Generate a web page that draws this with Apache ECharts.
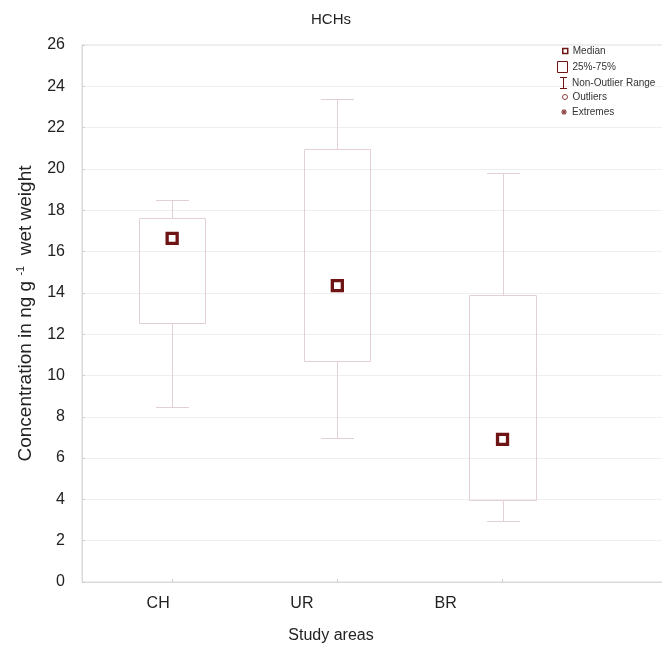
<!DOCTYPE html>
<html>
<head>
<meta charset="utf-8">
<script src="https://cdn.jsdelivr.net/npm/echarts@6/dist/echarts.min.js"></script>
<style>
  html, body { margin: 0; padding: 0; background: #fff; }
  #main { width: 662px; height: 646px; }
</style>
</head>
<body>
<div id="main"></div>
<script>
// values (ng g-1 wet weight)
const areas = ['CH', 'UR', 'BR'];
const whiskerLow = [8.45, 6.95, 2.95];
const q1 = [12.53, 10.70, 3.97];
const medians = [16.64, 14.35, 6.91];
const q3 = [17.61, 20.95, 13.88];
const whiskerHigh = [18.5, 23.4, 19.82];
const legendNames = ['Median', '25%-75%', 'Non-Outlier Range', 'Outliers', 'Extremes'];

const font = "'Liberation Sans', Arial, sans-serif";
const boxColor = '#e2d0d4';
const dark = '#6e1414';

const boxData = areas.map((a, i) => [i + 1, whiskerLow[i], q1[i], medians[i], q3[i], whiskerHigh[i]]);
const medianData = areas.map((a, i) => [i + 1, medians[i]]);

function px(v) { return Math.round(v) + 0.5; }

function renderWhisker(params, api) {
    const x = api.value(0);
    const lo = api.coord([x, api.value(1)]);
    const b = api.coord([x, api.value(2)]);
    const t = api.coord([x, api.value(4)]);
    const hi = api.coord([x, api.value(5)]);
    const half = api.size([0.1, 0])[0];
    const cx = px(lo[0]);
    const st = { stroke: boxColor, lineWidth: 1, fill: null };
    return {
        type: 'group',
        children: [
            { type: 'line', shape: { x1: cx, y1: px(lo[1]), x2: cx, y2: px(b[1]) }, style: st },
            { type: 'line', shape: { x1: cx, y1: px(t[1]), x2: cx, y2: px(hi[1]) }, style: st },
            { type: 'line', shape: { x1: cx - half, y1: px(lo[1]), x2: cx + half, y2: px(lo[1]) }, style: st },
            { type: 'line', shape: { x1: cx - half, y1: px(hi[1]), x2: cx + half, y2: px(hi[1]) }, style: st }
        ]
    };
}

function renderBox(params, api) {
    const x = api.value(0);
    const b = api.coord([x, api.value(2)]);
    const t = api.coord([x, api.value(4)]);
    const w = api.size([0.4, 0])[0];
    const x0 = px(b[0] - w / 2);
    const x1 = px(b[0] + w / 2);
    return {
        type: 'rect',
        shape: { x: x0, y: px(t[1]), width: x1 - x0, height: px(b[1]) - px(t[1]) },
        style: { stroke: boxColor, lineWidth: 1, fill: 'rgba(255,255,255,0)' }
    };
}

// legend entries: one small legend each so the icons can differ in size
const legendIcons = [
    { icon: 'rect', w: 5, h: 5, style: { color: '#fff', borderColor: dark, borderWidth: 1.5 } },
    { icon: 'rect', w: 10, h: 11, style: { color: '#fff', borderColor: dark, borderWidth: 1 } },
    { icon: 'path://M0,0h7v1h-7zM3,1h1v10h-1zM0,11h7v1h-7z', w: 7, h: 12, style: { color: dark } },
    { icon: 'circle', w: 5, h: 5, style: { color: '#fff', borderColor: dark, borderWidth: 1 } },
    { icon: 'path://M2.5,0h1v6h-1zM0,2.5h6v1h-6zM0.6,1.3l0.7,-0.7l4.1,4.1l-0.7,0.7zM4.7,0.6l0.7,0.7l-4.1,4.1l-0.7,-0.7z', w: 6, h: 6, style: { color: dark } }
];
const legendRowY = [51, 67, 83, 97, 112];

const legends = legendNames.map((name, i) => ({
    left: 572 - 5 - legendIcons[i].w,
    top: legendRowY[i] - 6,
    padding: 0,
    itemWidth: legendIcons[i].w,
    itemHeight: legendIcons[i].h,
    selectedMode: false,
    data: [{ name: name, icon: legendIcons[i].icon, itemStyle: legendIcons[i].style }],
    textStyle: { fontFamily: font, fontSize: 10, color: '#333', lineHeight: 12 }
}));

const chart = echarts.init(document.getElementById('main'));

chart.setOption({
    animation: false,
    backgroundColor: '#fff',
    title: [
        {
            text: 'HCHs', left: 'center', top: 12, padding: 0,
            textStyle: { fontFamily: font, fontSize: 15, fontWeight: 'normal', color: '#222' }
        },
        {
            text: 'Study areas', left: 'center', top: 628, padding: 0,
            textStyle: { fontFamily: font, fontSize: 16, fontWeight: 'normal', color: '#222' }
        }
    ],
    legend: legends,
    grid: {
        left: 82, right: -1, top: 45, bottom: 64,
        show: true, borderColor: '#dcdcdc', borderWidth: 1,
        outerBoundsMode: 'none'
    },
    xAxis: [
        {
            type: 'value', min: 0.4542, max: 3.9715, position: 'bottom',
            axisLine: { lineStyle: { color: '#d9d9d9' } },
            axisTick: { inside: true, length: 3, customValues: [1, 2, 3], lineStyle: { color: '#cfcfcf' } },
            axisLabel: { show: false },
            splitLine: { show: false }
        },
        {
            type: 'value', min: 0.4704, max: 4.512, position: 'bottom',
            axisLine: { show: false },
            axisTick: { show: false },
            axisLabel: {
                customValues: [1, 2, 3],
                formatter: v => areas[Math.round(v) - 1],
                fontFamily: font, fontSize: 16, color: '#222', margin: 14
            },
            splitLine: { show: false }
        }
    ],
    yAxis: {
        type: 'value', min: 0, max: 26, interval: 2,
        axisLine: { show: true, lineStyle: { color: '#d9d9d9' } },
        axisTick: { show: true, inside: true, length: 3, lineStyle: { color: '#cfcfcf' } },
        axisLabel: { fontFamily: font, fontSize: 16, color: '#222', margin: 17 },
        splitLine: { lineStyle: { color: '#efefef' } },
        name: '{n|Concentration in ng g }{s|-1}{n|  wet weight}',
        nameLocation: 'middle',
        nameGap: 45,
        nameTextStyle: {
            rich: {
                n: { fontFamily: font, fontSize: 19, color: '#222', lineHeight: 22 },
                s: { fontFamily: font, fontSize: 11, color: '#222', verticalAlign: 'top', lineHeight: 22 }
            }
        }
    },
    series: [
        {
            name: 'Non-Outlier Range', type: 'custom', xAxisIndex: 0,
            renderItem: renderWhisker, data: boxData, encode: { x: 0, y: [1, 2, 3, 4, 5] }
        },
        {
            name: '25%-75%', type: 'custom', xAxisIndex: 0,
            renderItem: renderBox, data: boxData, encode: { x: 0, y: [1, 2, 3, 4, 5] }
        },
        {
            name: 'Median', type: 'scatter', xAxisIndex: 0,
            symbol: 'rect', symbolSize: 10, data: medianData,
            itemStyle: { color: '#fff', borderColor: dark, borderWidth: 3.3, opacity: 1 }
        },
        { name: 'Outliers', type: 'scatter', xAxisIndex: 0, data: [] },
        { name: 'Extremes', type: 'scatter', xAxisIndex: 0, data: [] }
    ]
});
</script>
</body>
</html>
